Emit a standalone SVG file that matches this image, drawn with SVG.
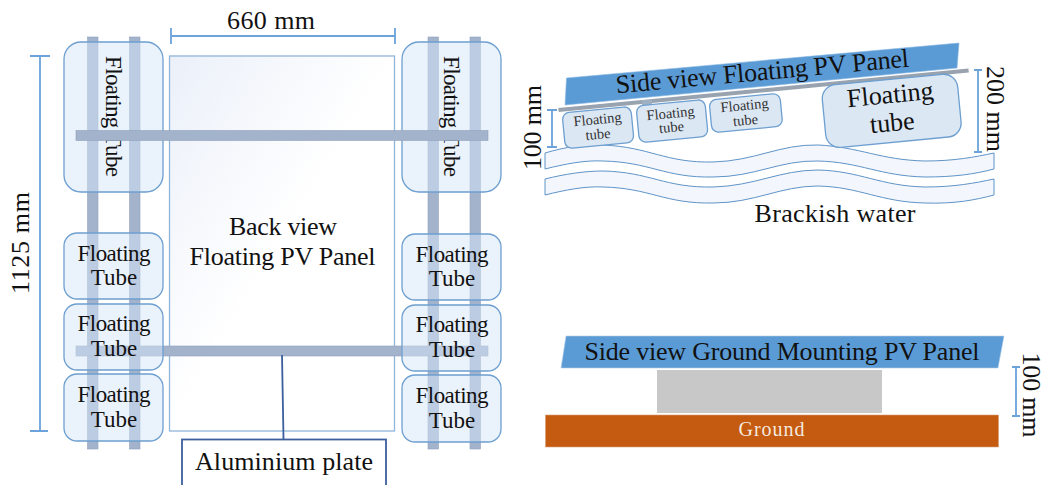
<svg xmlns="http://www.w3.org/2000/svg" width="1045" height="485" viewBox="0 0 1045 485">
<style>
text{font-family:"Liberation Serif","DejaVu Serif",serif;fill:#111;text-anchor:middle}
.t{font-size:23px}
.l{font-size:26px}
.s{font-size:14.500px;fill:#333}
.tube{fill:#d6e6f8;fill-opacity:.5;stroke:#6d9fd0;stroke-width:1.300}
.st{fill:#dce7f4;stroke:#6d9fd0;stroke-width:1.300}
.bar{fill:#a3b3cc;stroke:#8fa1bd;stroke-width:.6}
.dim{fill:none;stroke:#6ba3da;stroke-width:1.800}
.wave{fill:#f3f6fc;stroke:#5f94c8;stroke-width:1}
</style>
<defs>
<linearGradient id="pg" x1="0" y1="0" x2="1" y2="1"><stop offset="0" stop-color="#ebf0f9"/><stop offset=".5" stop-color="#fff"/></linearGradient>
</defs>
<g id="panel-back"><rect x="169.500" y="56" width="225" height="375" fill="url(#pg)" stroke="#8fb5da" stroke-width="1.300"/>
<text class="l" x="283" y="235" textLength="108">Back view</text><text class="l" x="282.500" y="265" textLength="186">Floating PV Panel</text></g>
<g id="bars">
<rect class="bar" x="87.500" y="37" width="10.500" height="412"/><rect class="bar" x="129.500" y="37" width="10.500" height="412"/>
<rect class="bar" x="428" y="37" width="10.500" height="412"/><rect class="bar" x="470" y="37" width="10.500" height="412"/>
<rect class="bar" x="76" y="346" width="412" height="10"/>
</g>
<g id="tube-l1"><rect class="tube" x="64" y="42" width="99" height="150" rx="17"/><text class="t" transform="translate(105.500 116.500) rotate(90)" textLength="121">Floating Tube</text></g>
<g id="tube-l2"><rect class="tube" x="64" y="233" width="99" height="66" rx="13"/><text class="t" x="114" y="261" textLength="73">Floating</text><text class="t" x="114" y="285">Tube</text></g>
<g id="tube-l3"><rect class="tube" x="64" y="304" width="99" height="66" rx="13"/><text class="t" x="114" y="331" textLength="73">Floating</text><text class="t" x="114" y="356">Tube</text></g>
<g id="tube-l4"><rect class="tube" x="64" y="374" width="99" height="67" rx="13"/><text class="t" x="114" y="402" textLength="73">Floating</text><text class="t" x="114" y="427">Tube</text></g>
<g id="tube-r1"><rect class="tube" x="402" y="42" width="99" height="150" rx="17"/><text class="t" transform="translate(443.500 116.500) rotate(90)" textLength="121">Floating Tube</text></g>
<g id="tube-r2"><rect class="tube" x="402" y="234" width="99" height="66" rx="13"/><text class="t" x="452" y="262" textLength="73">Floating</text><text class="t" x="452" y="286">Tube</text></g>
<g id="tube-r3"><rect class="tube" x="402" y="305" width="99" height="66" rx="13"/><text class="t" x="452" y="332" textLength="73">Floating</text><text class="t" x="452" y="357">Tube</text></g>
<g id="tube-r4"><rect class="tube" x="402" y="375" width="99" height="67" rx="13"/><text class="t" x="452" y="403" textLength="73">Floating</text><text class="t" x="452" y="428">Tube</text></g>
<g id="top-bar"><rect class="bar" x="76" y="130.500" width="412" height="10"/></g>
<g id="connectors" class="dim">
<path d="M171 28V44M171 36H395M395 28V44"/>
<path d="M30 56H50M40 56V431M30 431H48"/>
<path d="M282 355L283.500 439" style="stroke:#3c5f9e"/>
<path d="M547 110H557M552 110V147M547 147H557"/>
<path d="M974 70H982M978 70V152M974 152H982"/>
<path d="M1012 367H1020M1016 367V416M1012 416H1020"/>
</g>
<g id="aluminium-plate"><rect x="182" y="439.500" width="204" height="60" fill="#fff" stroke="#3c5f9e" stroke-width="1.800"/><text class="l" x="284" y="470" textLength="178">Aluminium plate</text></g>
<g id="dim-labels">
<text class="l" x="271" y="29" textLength="88">660 mm</text>
<text class="l" transform="translate(29 243) rotate(-90)" textLength="102">1125 mm</text>
<text class="l" transform="translate(541 127.500) rotate(-90)" textLength="85">100 mm</text>
<text class="l" transform="translate(987 109) rotate(90)" textLength="86">200 mm</text>
<text class="l" transform="translate(1023 395) rotate(90)" textLength="85">100 mm</text>
</g>
<g id="water">
<path class="wave" d="M545 153C565 147 585 144 603 145C650 147 665 163 713 162C755 161 780 144 818 145C860 147 880 160 925 161C955 161 975 157 994 153V169C975 174 955 177 925 177C880 176 860 162 818 161C780 160 755 177 713 177C665 178 650 162 603 161C585 160 565 164 545 169Z"/>
<path class="wave" d="M545 179C565 174 585 171 603 171C650 172 665 188 713 187C755 186 780 170 818 170C860 171 880 186 925 187C955 187 975 183 994 179V195C975 200 955 204 925 203C880 202 860 187 818 186C780 186 755 203 713 203C665 204 650 188 603 187C585 186 565 190 545 195Z"/>
<text class="l" x="835" y="222" textLength="161">Brackish water</text>
</g>
<g id="panel-side-floating">
<polygon points="566.500,78 959,43 957,68 565,105" fill="#5b9bd5" stroke="#8ab8e2" stroke-width=".6"/>
<text class="l" transform="translate(763 80) rotate(-5.200)" textLength="294">Side view Floating PV Panel</text>
<rect x="0" y="-2" width="412" height="4" transform="translate(558.500 110) rotate(-5.500)" fill="#98a3af"/>
<rect x="642" y="100" width="10" height="5" fill="#9fb0c2"/><rect x="876" y="81" width="10" height="6" fill="#9fb0c2"/>
</g>
<g id="tube-s1"><rect class="st" x="0" y="0" width="69" height="36" rx="7" transform="translate(562 113) rotate(-5.500)"/><text class="s" transform="translate(598 124) rotate(-5.500)">Floating</text><text class="s" transform="translate(598.500 139) rotate(-5.500)">tube</text></g>
<g id="tube-s2"><rect class="st" x="0" y="0" width="69" height="37" rx="7" transform="translate(636 106) rotate(-5.500)"/><text class="s" transform="translate(671 118) rotate(-5.500)">Floating</text><text class="s" transform="translate(672 132) rotate(-5.500)">tube</text></g>
<g id="tube-s3"><rect class="st" x="0" y="0" width="71" height="33" rx="7" transform="translate(709 100) rotate(-5.500)"/><text class="s" transform="translate(745 110) rotate(-5.500)">Floating</text><text class="s" transform="translate(746 125) rotate(-5.500)">tube</text></g>
<g id="tube-s4"><rect class="st" x="0" y="0" width="136" height="63" rx="14" transform="translate(821 86) rotate(-5.500)"/><text class="l" transform="translate(891 103) rotate(-5.500)" textLength="87">Floating</text><text class="l" transform="translate(893 131) rotate(-5.500)">tube</text></g>
<g id="panel-side-ground">
<polygon points="566,336 1004,336 998,368 561,368" fill="#5b9bd5" stroke="#b3cde8" stroke-width=".6"/>
<text class="l" x="782" y="360" textLength="395">Side view Ground Mounting PV Panel</text>
</g>
<g id="support"><rect x="657" y="370" width="225" height="43" fill="#c8c8c8"/></g>
<g id="ground"><rect x="545.500" y="415" width="453" height="32" fill="#c55a11" stroke="#d9a07c" stroke-width=".6"/><text x="771.500" y="436" font-size="20" style="fill:#f4e9df" textLength="66">Ground</text></g>
</svg>
